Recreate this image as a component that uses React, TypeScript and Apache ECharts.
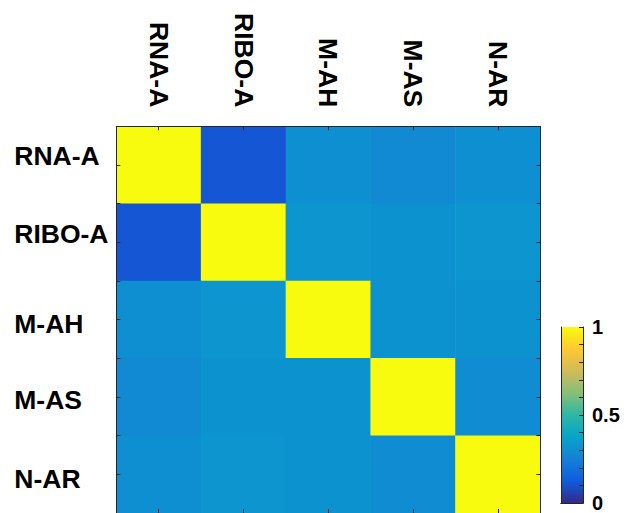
import React, { useEffect, useRef } from "react";
import * as echarts from "echarts";

const categories = ["RNA-A", "RIBO-A", "M-AH", "M-AS", "N-AR"];
const rowRNA = [1, 0.11, 0.3, 0.28, 0.3];
const rowRIBO = [0.11, 1, 0.32, 0.31, 0.32];
const rowMAH = [0.3, 0.32, 1, 0.31, 0.31];
const rowMAS = [0.28, 0.31, 0.31, 1, 0.29];
const rowNAR = [0.3, 0.32, 0.31, 0.29, 1];
const matrix = [rowRNA, rowRIBO, rowMAH, rowMAS, rowNAR];
const colorbarTicks = [0, 0.5, 1];
const parula = ["#352a87", "#0f5cdd", "#1481d6", "#06a4ca", "#2eb7a4", "#87bf77", "#d1bb59", "#fec832", "#f9fb0e"];

const FONT = "'Liberation Sans', Arial, sans-serif";
const DARK = "#262626";

export default function App() {
  const ref = useRef<HTMLDivElement>(null);
  useEffect(() => {
    document.body.style.margin = "0";
    const chart = echarts.init(ref.current!, null, { renderer: "svg" });
    const data: number[][] = [];
    matrix.forEach((row, yi) => row.forEach((v, xi) => data.push([xi, yi, v])));
    const tickBase = { show: true, inside: true, length: 4, lineStyle: { color: DARK, width: 1 } };
    const lineBase = { show: true, lineStyle: { color: DARK, width: 1 } };
    const labelFont = { fontFamily: FONT, fontWeight: "bold" as const, color: "#000", fontSize: 26.5 };
    const gradStops = parula.map((c, i) => ({ offset: i / (parula.length - 1), color: c }));
    const richPads: Record<string, number[]> = {
      r0: [0, 0, 17, 0],
      r1: [0, 0, 17, 0],
      r2: [9, 0, 0, 0],
      r3: [6, 0, 0, 0],
      r4: [9, 0, 0, 0],
    };
    const rich: Record<string, any> = {};
    Object.keys(richPads).forEach((k) => {
      rich[k] = { ...labelFont, padding: richPads[k] };
    });
    chart.setOption({
      animation: false,
      grid: [
        { left: 116.3, top: 126.3, width: 424, height: 388 },
        { left: 561, top: 327, width: 22, height: 185 },
      ],
      visualMap: {
        show: false,
        min: 0,
        max: 1,
        seriesIndex: 0,
        inRange: { color: parula },
      },
      xAxis: [
        {
          type: "category", gridIndex: 0, position: "top", data: categories, z: 10,
          axisLine: lineBase, axisTick: { ...tickBase, alignWithLabel: true },
          axisLabel: { ...labelFont, rotate: 90, margin: 19 },
          splitLine: { show: false },
        },
        {
          type: "category", gridIndex: 0, position: "bottom", data: categories, z: 10,
          axisLine: lineBase, axisTick: { ...tickBase, alignWithLabel: true },
          axisLabel: { show: false }, splitLine: { show: false },
        },
        {
          type: "category", gridIndex: 1, position: "bottom", data: ["cb"], z: 10,
          axisLine: lineBase, axisTick: { show: false }, axisLabel: { show: false },
        },
        {
          type: "category", gridIndex: 1, position: "top", data: ["cb"], z: 10,
          axisLine: lineBase, axisTick: { show: false }, axisLabel: { show: false },
        },
      ],
      yAxis: [
        {
          type: "category", gridIndex: 0, position: "left", inverse: true, data: categories, z: 10,
          axisLine: lineBase, axisTick: { ...tickBase, alignWithLabel: true },
          axisLabel: {
            ...labelFont, align: "left", margin: 102, rich,
            formatter: (v: string, i: number) => `{r${i}|${v}}`,
          },
          splitLine: { show: false },
        },
        {
          type: "category", gridIndex: 0, position: "right", inverse: true, data: categories, z: 10,
          axisLine: lineBase, axisTick: { ...tickBase, alignWithLabel: true },
          axisLabel: { show: false }, splitLine: { show: false },
        },
        {
          type: "category", gridIndex: 0, position: "left", inverse: true, data: categories, z: 10,
          axisLine: { show: false }, axisTick: { ...tickBase },
          axisLabel: { show: false }, splitLine: { show: false },
        },
        {
          type: "category", gridIndex: 0, position: "right", inverse: true, data: categories, z: 10,
          axisLine: { show: false }, axisTick: { ...tickBase },
          axisLabel: { show: false }, splitLine: { show: false },
        },
        {
          type: "value", gridIndex: 1, position: "right", min: 0, max: 1, interval: 0.1, z: 10,
          axisLine: lineBase, axisTick: { ...tickBase },
          axisLabel: {
            fontFamily: FONT, fontWeight: "bold", color: "#000", fontSize: 20, margin: 9,
            formatter: (v: number) => {
              const r = Math.round(v * 10) / 10;
              return colorbarTicks.some((t) => Math.abs(t - r) < 1e-9) ? String(r) : "";
            },
          },
          splitLine: { show: false },
        },
        {
          type: "value", gridIndex: 1, position: "left", min: 0, max: 1, interval: 0.1, z: 10,
          axisLine: lineBase, axisTick: { show: false }, axisLabel: { show: false },
          splitLine: { show: false },
        },
      ],
      series: [
        {
          type: "heatmap", xAxisIndex: 0, yAxisIndex: 0, data,
          itemStyle: { borderWidth: 0 },
          emphasis: { disabled: true },
        },
        {
          type: "bar", xAxisIndex: 2, yAxisIndex: 4, data: [1], barWidth: "100%",
          itemStyle: { color: new echarts.graphic.LinearGradient(0, 1, 0, 0, gradStops) },
          silent: true,
        },
      ],
    });
    return () => chart.dispose();
  }, []);
  return <div ref={ref} style={{ width: 626, height: 513 }} />;
}
